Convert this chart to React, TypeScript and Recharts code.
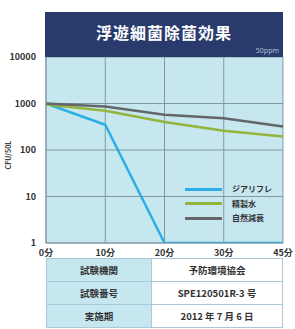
import React from 'react';
import { LineChart, Line, XAxis, YAxis, CartesianGrid } from 'recharts';

const times = ['0分', '10分', '20分', '30分', '45分'];
const jiarifure = [1000, 350, 1, 1, 1];
const seiseisui = [950, 700, 400, 260, 195];
const shizen = [1000, 860, 570, 480, 320];
const yTicks = [1, 10, 100, 1000, 10000];

const seriesInfo = [
  { key: 'a', name: 'ジアリフレ', color: '#2aaee4' },
  { key: 'b', name: '精製水', color: '#95b43c' },
  { key: 'c', name: '自然減衰', color: '#636769' },
];

const tableRows = [
  ['試験機関', '予防環境協会'],
  ['試験番号', 'SPE120501R-3 号'],
  ['実施期', '2012 年 7 月 6 日'],
];

const data = times.map((t, i) => ({ t, a: jiarifure[i], b: seiseisui[i], c: shizen[i] }));

const FONT = '"Noto Sans CJK JP", "Noto Sans", sans-serif';

function LegendBox() {
  return (
    <div style={{ position: 'absolute', left: 185, top: 182, fontFamily: FONT }}>
      {seriesInfo.map((s) => (
        <div key={s.key} style={{ display: 'flex', alignItems: 'center', height: 14.5 }}>
          <div style={{ width: 37, height: 3, background: s.color }} />
          <span style={{ marginLeft: 10, fontSize: 8, fontWeight: 700, color: '#333', lineHeight: 1 }}>{s.name}</span>
        </div>
      ))}
    </div>
  );
}

export default function App() {
  return (
    <div style={{ position: 'absolute', left: 0, top: 0, width: 295, height: 329, background: '#fff', fontFamily: FONT }}>
      <LineChart width={295} height={262} data={data} margin={{ top: 57, right: 12, bottom: 0, left: 0 }}>
        <CartesianGrid fill="#c6e7f0" stroke="#7f98a4" strokeWidth={1} />
        <XAxis
          dataKey="t"
          height={19}
          tickLine={false}
          axisLine={{ stroke: '#7f98a4' }}
          tick={{ fontSize: 9, fontWeight: 700, fill: '#333', fontFamily: FONT }}
          tickMargin={1}
          interval={0}
        />
        <YAxis
          scale="log"
          domain={[1, 10000]}
          ticks={yTicks}
          width={46}
          tickLine={false}
          axisLine={{ stroke: '#7f98a4' }}
          tick={{ fontSize: 9, fontWeight: 700, fill: '#333', fontFamily: FONT }}
          tickMargin={4}
          allowDataOverflow
        />
        {seriesInfo.map((s) => (
          <Line
            key={s.key}
            dataKey={s.key}
            name={s.name}
            stroke={s.color}
            strokeWidth={2.5}
            dot={false}
            type="linear"
            isAnimationActive={false}
          />
        ))}
      </LineChart>
      <LegendBox />
      <div style={{ position: 'absolute', left: 8, top: 155, transform: 'translate(-50%, -50%) rotate(-90deg)', fontSize: 7, fontWeight: 700, color: '#444', whiteSpace: 'nowrap', lineHeight: 1 }}>
        CFU/50L
      </div>
      <div style={{ position: 'absolute', left: 45, top: 12, width: 238, height: 45, background: '#293b6c' }}>
        <div style={{ position: 'absolute', left: 0, right: 0, top: 8, textAlign: 'center', color: '#fff', fontSize: 16, fontWeight: 700, letterSpacing: 1 }}>
          浮遊細菌除菌効果
        </div>
        <div style={{ position: 'absolute', right: 4, bottom: 2, color: '#aebfd8', fontSize: 7, fontFamily: '"Noto Sans", sans-serif' }}>50ppm</div>
      </div>
      <table style={{ position: 'absolute', left: 46, top: 258, width: 237, borderCollapse: 'collapse', fontSize: 9.5, fontWeight: 700, color: '#333' }}>
        <tbody>
          {tableRows.map((r, i) => (
            <tr key={i} style={{ height: 23 }}>
              <td style={{ width: 104, background: '#c6e7f0', border: '1px solid #a9c9d6', textAlign: 'center', padding: 0 }}>{r[0]}</td>
              <td style={{ background: '#fff', border: '1px solid #a9c9d6', textAlign: 'center', padding: 0 }}>{r[1]}</td>
            </tr>
          ))}
        </tbody>
      </table>
    </div>
  );
}
